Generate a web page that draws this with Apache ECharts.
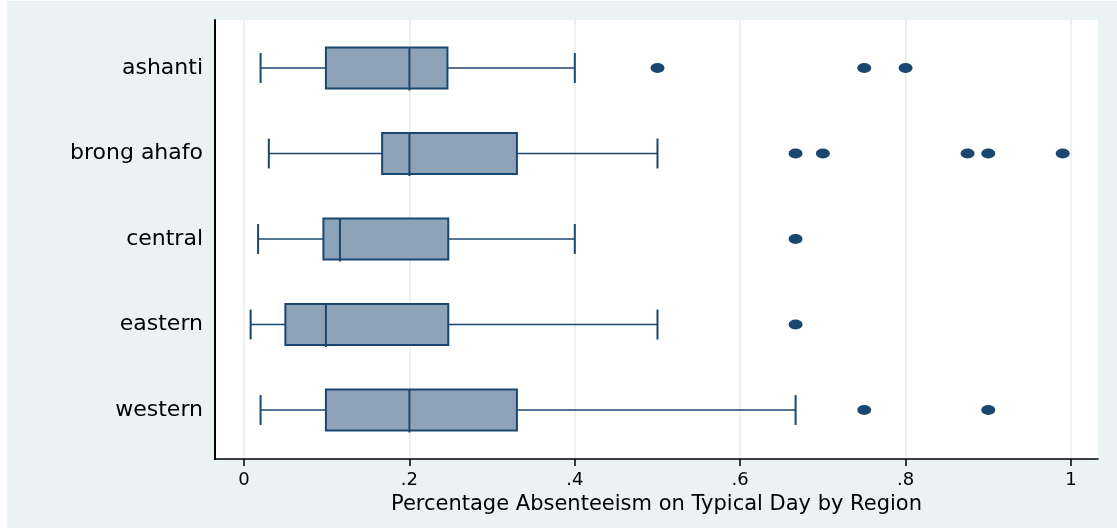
<!DOCTYPE html>
<html>
<head>
<meta charset="utf-8">
<script src="https://cdn.jsdelivr.net/npm/echarts@6/dist/echarts.min.js"></script>
<style>
  html, body { margin: 0; padding: 0; background: #ffffff; }
  #wrap { position: relative; width: 1117px; height: 529px; background: #ffffff; }
  #chart { position: absolute; left: 7px; top: 1px; width: 1110px; height: 527px; }
</style>
</head>
<body>
<div id="wrap"><div id="chart"></div></div>
<script>
// ---- data ----
const categories = ['ashanti', 'brong ahafo', 'central', 'eastern', 'western'];
const lowerWhisker = [0.02, 0.03, 0.017, 0.008, 0.02];
const q1 = [0.099, 0.167, 0.096, 0.05, 0.099];
const median = [0.2, 0.2, 0.116, 0.099, 0.2];
const q3 = [0.246, 0.33, 0.247, 0.247, 0.33];
const upperWhisker = [0.4, 0.5, 0.4, 0.5, 0.667];
const outliersAshanti = [0.5, 0.75, 0.8];
const outliersBrongAhafo = [0.667, 0.7, 0.875, 0.9, 0.99];
const outliersCentral = [0.667];
const outliersEastern = [0.667];
const outliersWestern = [0.75, 0.9];
const xTickValues = [0, 0.2, 0.4, 0.6, 0.8, 1];
const xTickLabels = ['0', '.2', '.4', '.6', '.8', '1'];
const xTitle = 'Percentage Absenteeism on Typical Day by Region';

// ---- build ----
const outlierLists = [outliersAshanti, outliersBrongAhafo, outliersCentral, outliersEastern, outliersWestern];
const boxData = categories.map((c, i) => [i + 1, lowerWhisker[i], q1[i], median[i], q3[i], upperWhisker[i]]);
const outlierData = [];
outlierLists.forEach((list, i) => list.forEach(v => outlierData.push([v, i + 1])));

const NAVY = '#1a476f';
const FILL = '#8ea3b8';

function renderBox(params, api) {
  const cat = api.value(0);
  const lo = api.coord([api.value(1), cat]);
  const b1 = api.coord([api.value(2), cat]);
  const md = api.coord([api.value(3), cat]);
  const b3 = api.coord([api.value(4), cat]);
  const hi = api.coord([api.value(5), cat]);
  const band = Math.abs(api.size([0, 1])[1]);
  const bh = band * 0.48;
  const ch = band * 0.35;
  const y = lo[1];
  const ls = { stroke: NAVY, lineWidth: 1.5 };
  return {
    type: 'group',
    children: [
      { type: 'line', shape: { x1: lo[0], y1: y, x2: b1[0], y2: y }, style: ls },
      { type: 'line', shape: { x1: b3[0], y1: y, x2: hi[0], y2: y }, style: ls },
      { type: 'line', shape: { x1: lo[0], y1: y - ch / 2, x2: lo[0], y2: y + ch / 2 }, style: { stroke: NAVY, lineWidth: 2 } },
      { type: 'line', shape: { x1: hi[0], y1: y - ch / 2, x2: hi[0], y2: y + ch / 2 }, style: { stroke: NAVY, lineWidth: 2 } },
      { type: 'rect', shape: { x: b1[0], y: y - bh / 2, width: b3[0] - b1[0], height: bh }, style: { fill: FILL, stroke: NAVY, lineWidth: 2 } },
      { type: 'line', shape: { x1: md[0], y1: y - bh / 2, x2: md[0], y2: y + bh / 2 + 2 }, style: { stroke: NAVY, lineWidth: 2 } }
    ]
  };
}

const chart = echarts.init(document.getElementById('chart'), null, { renderer: 'canvas' });
chart.setOption({
  backgroundColor: '#eaf2f3',
  animation: false,
  textStyle: { fontFamily: 'DejaVu Sans' },
  grid: {
    left: 208, right: 19, top: 19, bottom: 69,
    show: true, backgroundColor: '#ffffff', borderWidth: 0
  },
  xAxis: {
    type: 'value',
    min: -0.0351, max: 1.0327,
    name: xTitle,
    nameLocation: 'middle',
    nameGap: 33,
    nameTextStyle: { fontSize: 21, color: '#000', fontFamily: 'DejaVu Sans' },
    axisLine: { show: true, onZero: false, lineStyle: { color: '#000', width: 1.5 } },
    axisTick: { show: true, length: 7, lineStyle: { color: '#000', width: 1.5 }, customValues: xTickValues },
    axisLabel: {
      customValues: xTickValues,
      margin: 12,
      fontSize: 18, color: '#000', fontFamily: 'DejaVu Sans',
      formatter: v => xTickLabels[xTickValues.findIndex(t => Math.abs(t - v) < 1e-9)]
    },
    splitLine: { show: true, lineStyle: { color: '#eaf2f3', width: 2 } }
  },
  yAxis: {
    type: 'value',
    inverse: true,
    min: 0.4386, max: 5.573,
    axisLine: { show: true, onZero: false, lineStyle: { color: '#000', width: 2 } },
    axisTick: { show: false, customValues: [1, 2, 3, 4, 5] },
    axisLabel: {
      customValues: [1, 2, 3, 4, 5],
      margin: 12,
      fontSize: 22, color: '#000', fontFamily: 'DejaVu Sans',
      formatter: v => categories[Math.round(v) - 1]
    },
    splitLine: { show: false }
  },
  series: [
    {
      type: 'custom',
      renderItem: renderBox,
      data: boxData,
      encode: { x: [1, 2, 3, 4, 5], y: 0 },
      z: 2
    },
    {
      type: 'scatter',
      data: outlierData,
      symbol: 'circle',
      symbolSize: [14, 10],
      itemStyle: { color: NAVY, opacity: 1 },
      z: 3
    }
  ]
});
</script>
</body>
</html>
